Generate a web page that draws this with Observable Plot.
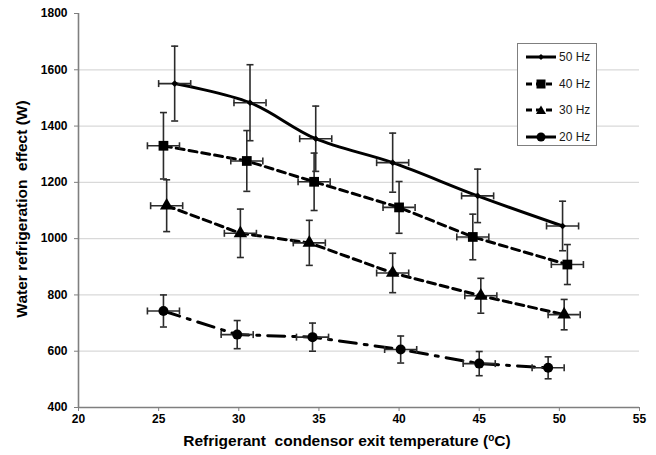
<!DOCTYPE html>
<html>
<head>
<meta charset="utf-8">
<script src="https://cdn.jsdelivr.net/npm/d3@7"></script>
<script src="https://cdn.jsdelivr.net/npm/@observablehq/plot@0.6"></script>
<style>
  body { margin: 0; background: #fff; }
  #wrap { position: relative; width: 656px; height: 455px; font-family: "Liberation Sans", Arial, sans-serif; }
  #legend { position: absolute; left: 517px; top: 43px; width: 80px; height: 103px; border: 1px solid #7f7f7f; background: #fff; box-sizing: border-box; }
  .lg { position: absolute; left: 8px; height: 12px; display: flex; align-items: center; font-size: 12px; color: #1a1a1a; }
  .lg svg { margin-right: 2px; }
</style>
</head>
<body>
<div id="wrap"><div id="legend"></div></div>
<script>
// ---- data ----
const series = ["50 Hz", "40 Hz", "30 Hz", "20 Hz"];
const temp50 = [26.0, 30.7, 34.8, 39.6, 44.9, 50.2];
const val50  = [1551, 1483, 1355, 1270, 1152, 1045];
const err50  = [133, 135, 116, 105, 95, 88];
const temp40 = [25.3, 30.5, 34.7, 40.0, 44.6, 50.5];
const val40  = [1330, 1276, 1202, 1111, 1006, 908];
const err40  = [118, 108, 102, 92, 81, 71];
const temp30 = [25.5, 30.1, 34.4, 39.6, 45.1, 50.3];
const val30  = [1117, 1019, 985, 878, 797, 730];
const err30  = [92, 86, 80, 70, 62, 54];
const temp20 = [25.3, 29.9, 34.6, 40.1, 45.0, 49.3];
const val20  = [743, 659, 650, 606, 556, 541];
const err20  = [57, 50, 50, 48, 43, 39];
const tempErr = 1.0;
const xTicks = [20, 25, 30, 35, 40, 45, 50, 55];
const yTicks = [400, 600, 800, 1000, 1200, 1400, 1600, 1800];
const gridTicks = [600, 800, 1000, 1200, 1400, 1600];

const build = (name, t, v, e) => t.map((x, i) => ({series: name, x, y: v[i], e: e[i]}));
const d50 = build("50 Hz", temp50, val50, err50);
const d40 = build("40 Hz", temp40, val40, err40);
const d30 = build("30 Hz", temp30, val30, err30);
const d20 = build("20 Hz", temp20, val20, err20);
const all = [...d50, ...d40, ...d30, ...d20];

const hCap = {draw(ctx) { ctx.moveTo(-3.5, 0); ctx.lineTo(3.5, 0); }};
const vCap = {draw(ctx) { ctx.moveTo(0, -3.5); ctx.lineTo(0, 3.5); }};

const lineOpts = {x: "x", y: "y", stroke: "#000", strokeWidth: 3};
const errColor = "#2b2b2b";

const chart = Plot.plot({
  width: 656, height: 455,
  marginLeft: 78, marginRight: 17, marginTop: 13, marginBottom: 48,
  x: {domain: [20, 55]},
  y: {domain: [400, 1800]},
  style: {fontFamily: "'Liberation Sans', Arial, sans-serif", fontSize: "12px", fontWeight: "bold", color: "#000", background: "#fff"},
  marks: [
    Plot.ruleY(gridTicks, {stroke: "#d9d9d9", strokeWidth: 1.3}),
    Plot.axisX({ticks: xTicks, tickFormat: d => String(d), tickSize: 4, tickPadding: 3, stroke: "#7f7f7f", label: null, fontWeight: "bold", fontSize: 12}),
    Plot.axisY({ticks: yTicks, tickFormat: d => String(d), tickSize: 4, tickPadding: 7, stroke: "#7f7f7f", label: null, fontWeight: "bold", fontSize: 12}),
    Plot.ruleX([20], {stroke: "#7f7f7f", strokeWidth: 1.6}),
    Plot.ruleY([400], {stroke: "#7f7f7f", strokeWidth: 1.6}),
    Plot.line(d50, {...lineOpts, curve: "catmull-rom"}),
    Plot.line(d40, {...lineOpts, strokeDasharray: "8,5"}),
    Plot.line(d30, {...lineOpts, strokeDasharray: "8,5"}),
    Plot.line(d20, {...lineOpts, strokeDasharray: "17,8,3,8"}),
    // error bars
    Plot.ruleX(all, {x: "x", y1: d => d.y - d.e, y2: d => d.y + d.e, stroke: errColor, strokeWidth: 1.6}),
    Plot.ruleY(all, {y: "y", x1: d => d.x - tempErr, x2: d => d.x + tempErr, stroke: errColor, strokeWidth: 1.6}),
    Plot.dot(all, {x: "x", y: d => d.y - d.e, symbol: hCap, stroke: errColor, strokeWidth: 1.6, fill: "none", r: 3}),
    Plot.dot(all, {x: "x", y: d => d.y + d.e, symbol: hCap, stroke: errColor, strokeWidth: 1.6, fill: "none", r: 3}),
    Plot.dot(all, {x: d => d.x - tempErr, y: "y", symbol: vCap, stroke: errColor, strokeWidth: 1.6, fill: "none", r: 3}),
    Plot.dot(all, {x: d => d.x + tempErr, y: "y", symbol: vCap, stroke: errColor, strokeWidth: 1.6, fill: "none", r: 3}),
    // markers
    Plot.dot(d50, {x: "x", y: "y", symbol: "diamond2", r: 3, fill: "#000", stroke: "none"}),
    Plot.dot(d40, {x: "x", y: "y", symbol: "square", r: 5.5, fill: "#000", stroke: "none"}),
    Plot.dot(d30, {x: "x", y: "y", symbol: "triangle", r: 5, fill: "#000", stroke: "none"}),
    Plot.dot(d20, {x: "x", y: "y", symbol: "circle", r: 5, fill: "#000", stroke: "none"})
  ]
});

// axis titles
const svg = d3.select(chart);
svg.append("text")
  .attr("transform", "translate(27,209) rotate(-90)")
  .attr("text-anchor", "middle")
  .style("font-size", "15.5px").style("font-weight", "bold").attr("fill", "#000")
  .text("Water refrigeration  effect (W)");
const xt = svg.append("text")
  .attr("x", 347).attr("y", 446)
  .attr("text-anchor", "middle")
  .style("font-size", "15.5px").style("font-weight", "bold").attr("fill", "#000");
xt.append("tspan").text("Refrigerant  condensor exit temperature (");
xt.append("tspan").attr("dy", -5).style("font-size", "10px").text("o");
xt.append("tspan").attr("dy", 5).text("C)");

document.getElementById("wrap").prepend(chart);
chart.style.position = "absolute"; chart.style.left = "0"; chart.style.top = "0";

// legend
const samples = {
  "50 Hz": {dash: null, shape: '<path d="M15,2 L18,5 L15,8 L12,5 Z" fill="#000"/>'},
  "40 Hz": {dash: "6,4", shape: '<rect x="10.5" y="0.5" width="9" height="9" fill="#000"/>'},
  "30 Hz": {dash: "6,4", shape: '<path d="M15,0.5 L20,9 L10,9 Z" fill="#000"/>'},
  "20 Hz": {dash: null, shape: '<circle cx="15" cy="5" r="4.5" fill="#000"/>'}
};
const lg = document.getElementById("legend");
series.forEach((s, i) => {
  const el = document.createElement("div");
  el.className = "lg";
  el.style.top = (7 + i * 26.5) + "px";
  const sm = samples[s];
  el.innerHTML = `<svg width="31" height="10"><line x1="0" y1="5" x2="30" y2="5" stroke="#000" stroke-width="3" ${sm.dash ? `stroke-dasharray="${sm.dash}"` : ""}/>${sm.shape}</svg><span>${s}</span>`;
  lg.appendChild(el);
});
</script>
</body>
</html>
